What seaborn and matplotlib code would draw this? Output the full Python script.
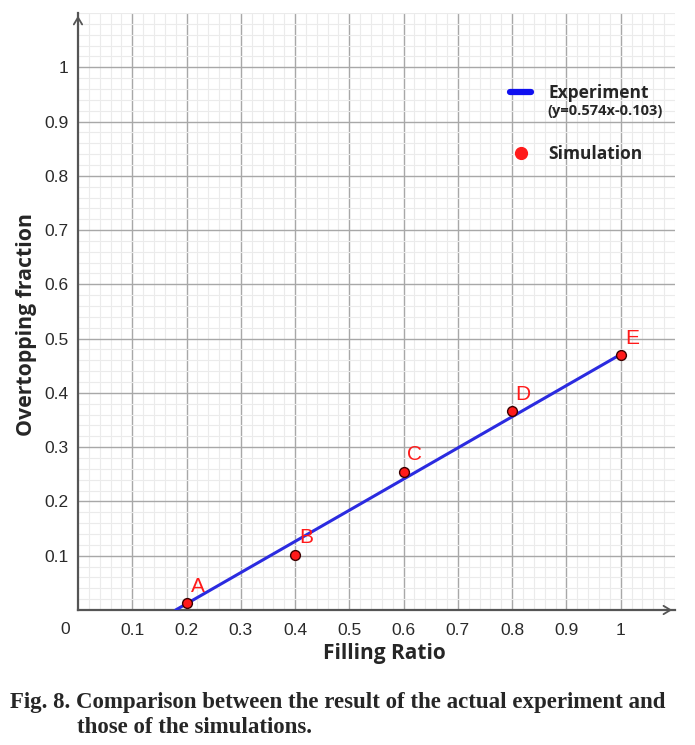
import matplotlib
matplotlib.use("Agg")
import matplotlib.pyplot as plt
import seaborn as sns
import pandas as pd
from matplotlib.lines import Line2D
from matplotlib.ticker import MultipleLocator

# simulation results (points A-E)
point_names = ["A", "B", "C", "D", "E"]
filling_ratio = [0.2, 0.4, 0.6, 0.8, 1.0]
overtopping = [0.013, 0.102, 0.255, 0.366, 0.470]

# experiment fit line end points (y = 0.574x - 0.103)
fit_x = [0.18, 1.0]
fit_y = [0.0, 0.471]

tick_values = [0.1, 0.2, 0.3, 0.4, 0.5, 0.6, 0.7, 0.8, 0.9, 1.0]
tick_labels = ["0.1", "0.2", "0.3", "0.4", "0.5", "0.6", "0.7", "0.8", "0.9", "1"]

sim = pd.DataFrame({"ratio": filling_ratio, "frac": overtopping, "name": point_names})
fit = pd.DataFrame({"ratio": fit_x, "frac": fit_y})

sns.set_style("white")
plt.rcParams["font.family"] = ["Liberation Sans", "DejaVu Sans"]

fig = plt.figure(figsize=(6.95, 7.45), dpi=100)
ax = fig.add_axes([0.1122, 0.1812, 0.859, 0.8014])

blue = "#2b2be0"
red = "#ff1a1a"

sns.lineplot(data=fit, x="ratio", y="frac", ax=ax, color=blue, lw=2.2, zorder=3)
sns.scatterplot(data=sim, x="ratio", y="frac", ax=ax, color=red, edgecolor="#3a0000",
                linewidth=1.0, s=50, zorder=4)
for _, r in sim.iterrows():
    ax.annotate(r["name"], (r["ratio"], r["frac"]), xytext=(8, 12), textcoords="offset points",
                ha="center", va="center", color=red, fontsize=15)

ax.set_xlim(0, 1.1)
ax.set_ylim(0, 1.1)
ax.set_xticks(tick_values)
ax.set_xticklabels(tick_labels)
ax.set_yticks(tick_values)
ax.set_yticklabels(tick_labels)
ax.xaxis.set_minor_locator(MultipleLocator(0.02))
ax.yaxis.set_minor_locator(MultipleLocator(0.02))
ax.grid(which="major", color="#a8a8a8", lw=1.0, zorder=0)
ax.grid(which="minor", color="#ebebeb", lw=0.8, zorder=0)
ax.set_axisbelow(True)
ax.tick_params(which="both", length=0, labelsize=12.5, labelcolor="#2a2a2a")
ax.tick_params(axis="x", pad=9)
ax.tick_params(axis="y", pad=7)

for side in ["top", "right"]:
    ax.spines[side].set_visible(False)
for side in ["left", "bottom"]:
    ax.spines[side].set_color("#555555")
    ax.spines[side].set_linewidth(1.6)

arrow = dict(arrowstyle="->,head_length=0.5,head_width=0.3", color="#555555", lw=1.3)
ax.annotate("", xy=(1.0, 0), xytext=(0.97, 0), xycoords="axes fraction", arrowprops=arrow)
ax.annotate("", xy=(0, 1.0), xytext=(0, 0.97), xycoords="axes fraction", arrowprops=arrow)

ax.text(-0.022, -0.033, "0", transform=ax.transAxes, ha="center", va="center",
        fontsize=12.5, color="#2a2a2a")

lab_font = ["Open Sans", "DejaVu Sans"]
ax.set_xlabel("Filling Ratio", fontsize=15, fontweight="bold", family=lab_font)
ax.set_ylabel("Overtopping fraction", fontsize=15.3, fontweight="bold", family=lab_font)
ax.xaxis.set_label_coords(0.513, -0.056)
ax.yaxis.set_label_coords(-0.068, 0.479)

handles = [Line2D([], [], color="#1010f0", lw=4.5),
           Line2D([], [], ls="", marker="o", color=red, markersize=8.5)]
ax.legend(handles, ["Experiment", "Simulation"], loc="upper left",
          bbox_to_anchor=(0.724, 0.881), frameon=False, borderpad=0, borderaxespad=0,
          handlelength=1.2, handletextpad=1.0, labelspacing=2.5,
          prop={"family": lab_font, "weight": "bold", "size": 12.5})
ax.text(0.786, 0.836, "(y=0.574x-0.103)", transform=ax.transAxes, ha="left", va="center",
        fontsize=10.5, fontweight="bold", family=lab_font)

cap_font = ["Liberation Serif", "DejaVu Serif"]
fig.text(0.014, 0.057, "Fig. 8. Comparison between the result of the actual experiment and",
         fontsize=16.5, fontweight="bold", family=cap_font, va="center")
fig.text(0.111, 0.023, "those of the simulations.",
         fontsize=16.5, fontweight="bold", family=cap_font, va="center")

fig.savefig("out.png", dpi=100)
